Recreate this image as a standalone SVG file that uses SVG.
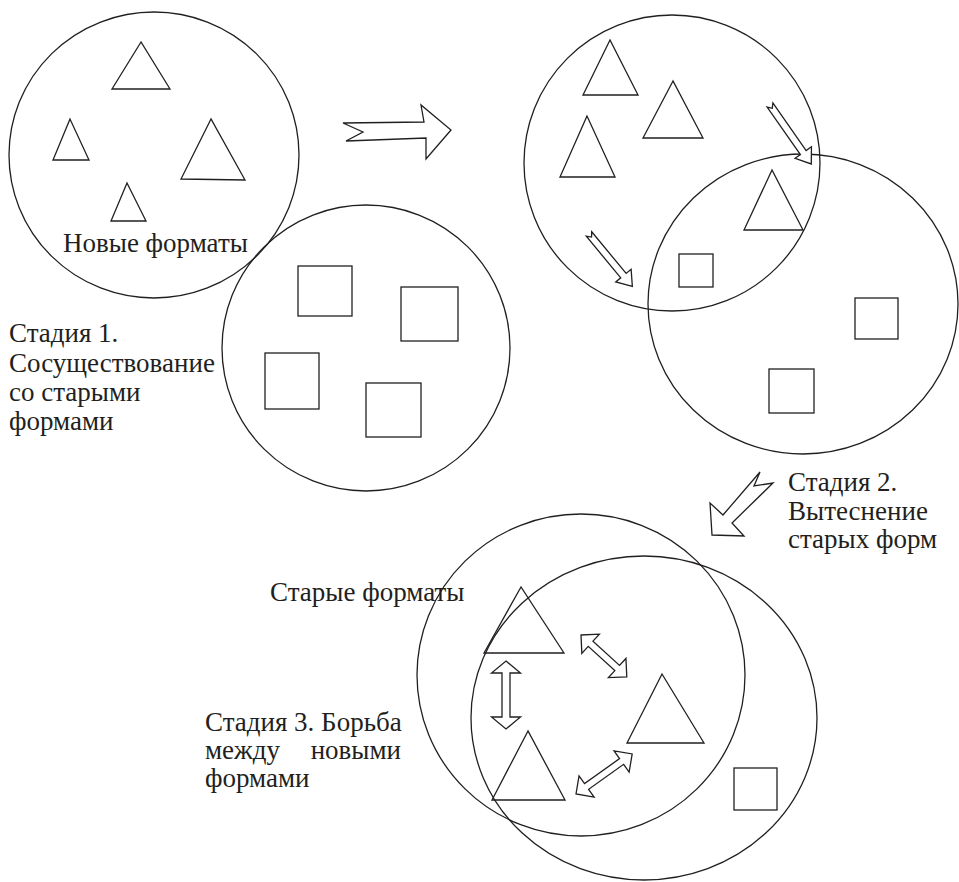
<svg xmlns="http://www.w3.org/2000/svg" width="959" height="882" viewBox="0 0 959 882">
<rect width="959" height="882" fill="#fff"/>
<g id="stage1-new" fill="none" stroke="#231f20" stroke-width="1.3">
<ellipse cx="154" cy="155" rx="145" ry="143"/>
<polygon points="141,42 112,89 170,89"/>
<polygon points="70,119 53,160 89,160"/>
<polygon points="211,119 181,179 245,180"/>
<polygon points="127,183 111,221 146,221"/>
</g>
<text id="label-new" font-family="Times New Roman" font-size="27" fill="#231f20" x="63" y="252">Новые форматы</text>
<g id="stage1-old" fill="none" stroke="#231f20" stroke-width="1.3">
<ellipse cx="366" cy="348" rx="144" ry="143"/>
<rect x="298" y="266" width="54" height="50"/>
<rect x="401" y="287" width="57" height="54"/>
<rect x="265" y="353" width="54" height="56"/>
<rect x="366" y="383" width="55" height="54"/>
</g>
<text id="label-old" font-family="Times New Roman" font-size="27" fill="#231f20" x="270" y="601">Старые форматы</text>
<text id="stage1-label" font-family="Times New Roman" font-size="27" fill="#231f20"><tspan x="9" y="342">Стадия 1.</tspan><tspan x="9" y="372">Сосуществование</tspan><tspan x="9" y="401">со старыми</tspan><tspan x="9" y="430">формами</tspan></text>
<g id="stage2-new" fill="none" stroke="#231f20" stroke-width="1.3">
<ellipse cx="672" cy="163" rx="148" ry="148"/>
<polygon points="610,40 583,95 638,95"/>
<polygon points="673,81 643,138 703,138"/>
<polygon points="587,116 560,177 615,177"/>
</g>
<g id="stage2-old" fill="none" stroke="#231f20" stroke-width="1.3">
<ellipse cx="803" cy="304" rx="155" ry="150"/>
<polygon points="772,170 744,230 803,230"/>
<rect x="679" y="254" width="34" height="33"/>
<rect x="855" y="298" width="43" height="41"/>
<rect x="769" y="369" width="45" height="44"/>
</g>
<text id="stage2-label" font-family="Times New Roman" font-size="27" fill="#231f20"><tspan x="788" y="491">Стадия 2.</tspan><tspan x="788" y="520">Вытеснение</tspan><tspan x="788" y="548">старых форм</tspan></text>
<g id="stage3" fill="none" stroke="#231f20" stroke-width="1.3">
<ellipse cx="581" cy="675" rx="164" ry="161"/>
<ellipse cx="644" cy="718" rx="173" ry="162"/>
<polygon points="521,587 484,653 564,653"/>
<polygon points="528,731 492,800 565,800"/>
<polygon points="662,674 627,743 704,743"/>
<rect x="734" y="768" width="43" height="42"/>
</g>
<text id="stage3-label" font-family="Times New Roman" font-size="27" fill="#231f20"><tspan x="205" y="731">Стадия 3. Борьба</tspan><tspan x="205" y="759">между</tspan><tspan x="401" y="759" text-anchor="end">новыми</tspan><tspan x="205" y="787">формами</tspan></text>
<g id="connectors" fill="#fff" stroke="#231f20" stroke-width="1.3">
<polygon points="343,123 424,122 421,105 451,130 426,159 426,138 346,141 363,132"/>
<polygon points="712,535 710,503 723,515 760,472 754,486 773,483 732,523 744,536"/>
<polygon transform="translate(770,105) rotate(55)" points="0,-3.5 58,-3.5 58,-10 72,0 58,10 58,3.5 0,3.5 4,0"/>
<polygon transform="translate(589,234) rotate(50.4)" points="0,-3.5 54,-3.5 54,-10 68,0 54,10 54,3.5 0,3.5 4,0"/>
<polygon transform="translate(506,661) rotate(90)" points="0,0 12,-14.5 12,-4 56,-4 56,-14.5 68,0 56,14.5 56,4 12,4 12,14.5"/>
<polygon transform="translate(581,635) rotate(42.4)" points="0,0 13,-13 13,-3.5 49,-3.5 49,-13 62,0 49,13 49,3.5 13,3.5 13,13"/>
<polygon transform="translate(576,794) rotate(-35.5)" points="0,0 13,-13 13,-3.5 56,-3.5 56,-13 69,0 56,13 56,3.5 13,3.5 13,13"/>
</g>
</svg>
